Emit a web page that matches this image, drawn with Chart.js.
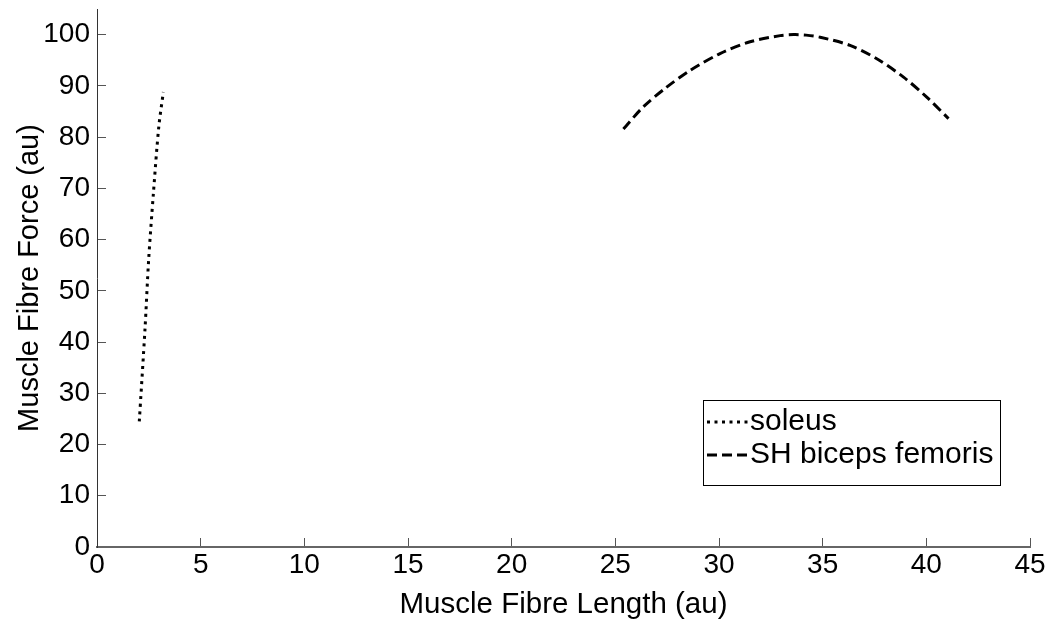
<!DOCTYPE html>
<html>
<head>
<meta charset="utf-8">
<script src="https://cdn.jsdelivr.net/npm/chart.js@4/dist/chart.umd.min.js"></script>
<style>
  html, body { margin: 0; padding: 0; background: #fff; }
  canvas { display: block; }
</style>
</head>
<body>
<canvas id="c" width="1056" height="633"></canvas>
<script>
// ---- data ----
const soleusX = [2.04, 2.32, 2.49, 2.72, 2.98, 3.2];
const soleusY = [24.5, 42.9, 56, 69, 82, 88.8];

const bicepsX = [25.39, 26.35, 27.4, 28.6, 30.05, 31.5, 32.95, 33.6, 34.2, 34.88, 36.32, 37.61, 38.9, 40.02, 41.07];
const bicepsY = [81.6, 85.9, 89.5, 93.0, 96.3, 98.6, 99.8, 100, 99.9, 99.5, 97.9, 95.3, 91.7, 87.8, 83.6];

const seriesLabels = ['soleus', 'SH biceps femoris'];
const xTitle = 'Muscle Fibre Length (au)';
const yTitle = 'Muscle Fibre Force (au)';
const xMin = 0, xMax = 45, xStep = 5;
const yMin = 0, yMax = 105, yStep = 10;

const toPts = (xs, ys) => xs.map((x, i) => ({ x: x, y: ys[i] }));

const FONT = "'Liberation Sans', Arial, Helvetica, sans-serif";

const boxLegend = {
  id: 'boxLegend',
  afterDraw(chart) {
    const { ctx, chartArea } = chart;
    const bx = chartArea.right - 327;
    const by = chartArea.top + 391;
    const bw = 297, bh = 85;
    ctx.save();
    ctx.fillStyle = '#fff';
    ctx.fillRect(bx, by, bw, bh);
    ctx.strokeStyle = '#000';
    ctx.lineWidth = 1;
    ctx.strokeRect(bx + 0.5, by + 0.5, bw, bh);
    const rows = [by + 22, by + 55];
    chart.data.datasets.forEach((ds, i) => {
      const y = rows[i];
      ctx.beginPath();
      ctx.setLineDash(ds.borderDash || []);
      ctx.lineWidth = ds.borderWidth;
      ctx.strokeStyle = ds.borderColor;
      ctx.moveTo(bx + 4, y);
      ctx.lineTo(bx + 46, y);
      ctx.stroke();
      ctx.setLineDash([]);
      ctx.fillStyle = '#000';
      ctx.font = '30px ' + FONT;
      ctx.textBaseline = 'middle';
      ctx.textAlign = 'left';
      ctx.fillText(ds.label, bx + 47, y);
    });
    ctx.restore();
  }
};

new Chart(document.getElementById('c'), {
  type: 'scatter',
  data: {
    datasets: [
      {
        label: seriesLabels[0],
        data: toPts(soleusX, soleusY),
        showLine: true,
        borderColor: '#000',
        borderWidth: 3,
        borderDash: [3, 4.5],
        pointRadius: 0,
        tension: 0.3,
        fill: false
      },
      {
        label: seriesLabels[1],
        data: toPts(bicepsX, bicepsY),
        showLine: true,
        borderColor: '#000',
        borderWidth: 3,
        borderDash: [10, 5],
        pointRadius: 0,
        tension: 0.3,
        fill: false
      }
    ]
  },
  options: {
    responsive: false,
    animation: false,
    devicePixelRatio: 1,
    layout: { padding: { top: 9, right: 26, left: 0, bottom: 0 } },
    plugins: { legend: { display: false }, tooltip: { enabled: false } },
    scales: {
      x: {
        type: 'linear',
        min: xMin, max: xMax,
        afterFit: (s) => { s.height = 86; s.paddingLeft = 0; s.paddingRight = 0; },
        ticks: {
          stepSize: xStep,
          includeBounds: false,
          color: '#000',
          padding: 10,
          maxRotation: 0,
          font: { family: FONT, size: 28 }
        },
        grid: { drawOnChartArea: false, drawTicks: true, tickLength: -9, color: '#555', tickWidth: 1 },
        border: { display: true, color: '#666', width: 2 },
        title: { display: true, text: xTitle, color: '#000', font: { family: FONT, size: 29.5 }, padding: { top: 0, bottom: 10 } }
      },
      y: {
        type: 'linear',
        min: yMin, max: yMax,
        afterFit: (s) => { s.width = 97; s.paddingTop = 0; s.paddingBottom = 0; },
        ticks: {
          stepSize: yStep,
          includeBounds: false,
          color: '#000',
          padding: 16,
          font: { family: FONT, size: 28 }
        },
        grid: { drawOnChartArea: false, drawTicks: true, tickLength: -9, color: '#555', tickWidth: 1 },
        border: { display: true, color: '#333', width: 1 },
        title: { display: true, text: yTitle, color: '#000', font: { family: FONT, size: 29 }, padding: { top: 13, bottom: 0 } }
      }
    }
  },
  plugins: [boxLegend]
});
</script>
</body>
</html>
